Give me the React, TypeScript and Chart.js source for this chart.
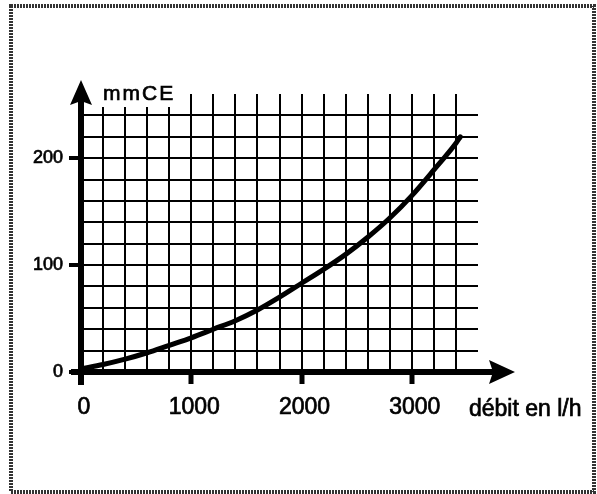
import React, { useEffect, useRef } from 'react';
import { Chart, registerables } from 'chart.js';

Chart.register(...registerables);

// Flow rate (l/h) and pressure drop (mmCE)
const flowValues = [0, 200, 400, 600, 800, 1000, 1200, 1400, 1600, 1800, 2000, 2200, 2400, 2600, 2800, 3000, 3200, 3400, 3440];
const headValues = [3, 7, 12, 18, 25, 32, 40, 48, 58, 70, 83, 96, 110, 126, 144, 165, 189, 214, 220];

const xLabelValues = [0, 1000, 2000, 3000];
const yLabelValues = [0, 100, 200];
const xAxisTitle = 'débit en l/h';
const yAxisTitle = 'mmCE';

const X_MIN = 0;
const X_MAX = 3600;
const X_STEP = 200;
const X_GRID_LAST = 3400;
const Y_MIN = 0;
const Y_MAX = 260;
const Y_STEP = 20;
const Y_GRID_LAST = 240;

const FONT = "'Liberation Sans', Arial, Helvetica, sans-serif";

const decorPlugin = {
  id: 'decor',
  afterDraw(chart: any) {
    const { ctx, chartArea, scales } = chart;
    const xs = scales.x;
    const ys = scales.y;
    const x0 = xs.getPixelForValue(0);
    const y0 = ys.getPixelForValue(0);
    ctx.save();
    ctx.fillStyle = '#000';
    ctx.strokeStyle = '#000';
    ctx.lineCap = 'butt';

    // y axis with arrow
    ctx.lineWidth = 6;
    ctx.beginPath();
    ctx.moveTo(x0, y0 + 13);
    ctx.lineTo(x0, chartArea.top - 4);
    ctx.stroke();
    const tipY = chartArea.top - 14;
    ctx.beginPath();
    ctx.moveTo(x0, tipY);
    ctx.lineTo(x0 - 11, tipY + 25);
    ctx.lineTo(x0, tipY + 21);
    ctx.lineTo(x0 + 11, tipY + 25);
    ctx.closePath();
    ctx.fill();

    // x axis with arrow
    const xEnd = xs.getPixelForValue(X_MAX);
    ctx.beginPath();
    ctx.moveTo(x0 - 10, y0);
    ctx.lineTo(xEnd + 16, y0);
    ctx.stroke();
    const tipX = xEnd + 37;
    ctx.beginPath();
    ctx.moveTo(tipX, y0);
    ctx.lineTo(tipX - 26, y0 - 12);
    ctx.lineTo(tipX - 22, y0);
    ctx.lineTo(tipX - 26, y0 + 12);
    ctx.closePath();
    ctx.fill();

    // y title with white background
    ctx.fillStyle = '#fff';
    ctx.fillRect(x0 + 15, chartArea.top - 16, 84, 29);
    ctx.fillStyle = '#000';
    ctx.lineWidth = 0.7;
    ctx.font = `21px ${FONT}`;
    (ctx as any).letterSpacing = '2px';
    ctx.textAlign = 'left';
    ctx.textBaseline = 'alphabetic';
    ctx.fillText(yAxisTitle, x0 + 22, chartArea.top + 6);
    ctx.strokeText(yAxisTitle, x0 + 22, chartArea.top + 6);
    (ctx as any).letterSpacing = '0px';

    // x title
    ctx.font = `23px ${FONT}`;
    ctx.fillText(xAxisTitle, xEnd - 9, y0 + 44);
    ctx.strokeText(xAxisTitle, xEnd - 9, y0 + 44);

    // frame
    ctx.strokeStyle = '#333';
    ctx.lineWidth = 4;
    ctx.setLineDash([2, 1]);
    ctx.strokeRect(11, 6, 583, 486);
    ctx.restore();
  },
};

export default function App() {
  const ref = useRef<HTMLCanvasElement>(null);

  useEffect(() => {
    if (!ref.current) return;
    const data = flowValues.map((x, i) => ({ x, y: headValues[i] }));
    const chart = new Chart(ref.current, {
      type: 'line',
      data: {
        datasets: [
          {
            data,
            borderColor: '#000',
            borderWidth: 5,
            borderCapStyle: 'round',
            pointRadius: 0,
            fill: false,
            tension: 0.4,
            cubicInterpolationMode: 'monotone',
          },
        ],
      },
      options: {
        responsive: false,
        animation: false,
        devicePixelRatio: 1,
        layout: { padding: { left: 0, top: 94, right: 119, bottom: 0 } },
        plugins: { legend: { display: false }, tooltip: { enabled: false }, title: { display: false } },
        scales: {
          x: {
            type: 'linear',
            min: X_MIN,
            max: X_MAX,
            border: { display: false },
            afterFit: (s: any) => { s.height = 122; },
            ticks: {
              stepSize: X_STEP,
              autoSkip: false,
              maxRotation: 0,
              padding: 10,
              labelOffset: 3,
              color: '#000',
              textStrokeColor: '#000',
              textStrokeWidth: 0.7,
              font: { size: 23, family: FONT },
              callback: (v: any) => (xLabelValues.includes(Number(v)) ? String(v) : ''),
            },
            grid: {
              color: (c: any) => (c.tick && c.tick.value > 0 && c.tick.value <= X_GRID_LAST ? '#000' : 'rgba(0,0,0,0)'),
              lineWidth: 2,
              drawTicks: true,
              tickLength: 12,
              tickWidth: 5,
              tickColor: (c: any) => (c.tick && xLabelValues.includes(c.tick.value) ? '#000' : 'rgba(0,0,0,0)'),
            },
          },
          y: {
            type: 'linear',
            min: Y_MIN,
            max: Y_MAX,
            border: { display: false },
            afterFit: (s: any) => { s.width = 81; },
            ticks: {
              stepSize: Y_STEP,
              autoSkip: false,
              padding: 6,
              color: '#000',
              textStrokeColor: '#000',
              textStrokeWidth: 0.7,
              font: { size: 18, family: FONT },
              callback: (v: any) => (yLabelValues.includes(Number(v)) ? String(v) : ''),
            },
            grid: {
              color: (c: any) => (c.tick && c.tick.value > 0 && c.tick.value <= Y_GRID_LAST ? '#000' : 'rgba(0,0,0,0)'),
              lineWidth: 2,
              drawTicks: true,
              tickLength: 12,
              tickWidth: 4,
              tickColor: (c: any) => (c.tick && yLabelValues.includes(c.tick.value) ? '#000' : 'rgba(0,0,0,0)'),
            },
          },
        },
      },
      plugins: [decorPlugin],
    });
    return () => chart.destroy();
  }, []);

  return (
    <div style={{ position: 'fixed', left: 0, top: 0, width: 597, height: 494, background: '#fff' }}>
      <canvas ref={ref} width={597} height={494} style={{ display: 'block' }} />
    </div>
  );
}
